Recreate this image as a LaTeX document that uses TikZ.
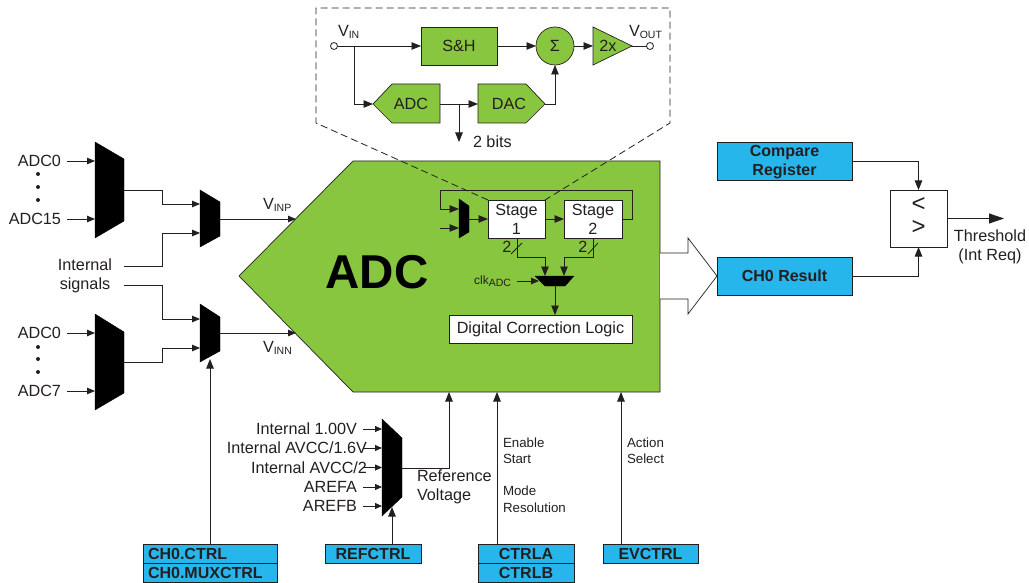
\documentclass[tikz,border=0pt]{standalone}
\usepackage{fontspec}
\setmainfont{Liberation Sans}
\usetikzlibrary{arrows.meta}
\definecolor{adcgreen}{RGB}{137,198,63}
\definecolor{regblue}{RGB}{38,182,235}
\definecolor{ink}{RGB}{35,31,32}
\newcommand{\subs}[1]{{\fontsize{10.5}{10.5}\selectfont\raisebox{-2.5pt}{#1}}}
\tikzset{
  wire/.style={draw=ink,line width=0.8pt},
  arr/.style={wire,-{Triangle[length=9.5pt,width=7.5pt]}},
  sarr/.style={wire,-{Triangle[length=8pt,width=6.5pt]}},
  bigarr/.style={wire,-{Triangle[length=15pt,width=10pt]}},
  txt/.style={inner sep=0pt,outer sep=0pt,text=ink,font=\fontsize{16.2}{19}\selectfont,align=center},
  small/.style={txt,font=\fontsize{13.3}{16}\selectfont,align=left},
  rt/.style={txt,anchor=east},
  greenbox/.style={txt,draw=ink,line width=0.7pt,fill=adcgreen},
  whitebox/.style={txt,draw=ink,line width=0.9pt,fill=white},
  reg/.style={txt,draw=ink,line width=0.8pt,fill=regblue,font=\fontsize{16}{19}\selectfont\bfseries},
  port/.style={circle,draw=ink,line width=0.8pt,fill=white,minimum size=7pt,inner sep=0pt,outer sep=0pt},
  muxfill/.style={fill=black,draw=black,line width=0.4pt},
  dotp/.style={circle,fill=ink,minimum size=4pt,inner sep=0pt},
  zoomline/.style={draw=ink,line width=0.8pt,dash pattern=on 7pt off 4pt}
}
\begin{document}
\begin{tikzpicture}[x=1pt,y=-1pt]
\useasboundingbox (0,0) rectangle (1029,583);

% main ADC body
\draw[fill=adcgreen,draw=ink,line width=0.7pt] (239,276) -- (353,161) -- (660,161) -- (660,392) -- (353,392) -- cycle;
\node[txt,font=\fontsize{47.5}{50}\selectfont\bfseries,text=black] (adcmain) at (377,272) {ADC};

% big output arrow
\draw[fill=white,draw=ink,line width=0.7pt] (660,253) -- (688,253) -- (688,238) -- (717,276) -- (688,314) -- (688,299) -- (660,299);

% inset
\node[greenbox,minimum width=76pt,minimum height=38pt] (sh) at (459,46) {S\&H};
\node[port] (vin) at (334,46) {};
\node[port] (vout) at (650,46) {};
\node[greenbox,circle,minimum size=38pt] (sum) at (555,46) {Σ};
\draw[fill=adcgreen,draw=ink,line width=0.7pt] (593,27) -- (632,46) -- (593,65) -- cycle;
\node[txt] (gain) at (608,46) {2x};
\coordinate (gainin) at (593,46);
\coordinate (gainout) at (632,46);
\draw[fill=adcgreen,draw=ink,line width=0.7pt] (373,104) -- (392,84) -- (440,84) -- (440,123) -- (392,123) -- cycle;
\node[txt] (iadc) at (411,104) {ADC};
\draw[fill=adcgreen,draw=ink,line width=0.7pt] (478,84) -- (526,84) -- (545,104) -- (526,123) -- (478,123) -- cycle;
\node[txt] (idac) at (509,104) {DAC};
\coordinate (iadcin) at (373,104);
\coordinate (iadcout) at (440,104);
\coordinate (idacin) at (478,104);
\coordinate (idacout) at (545,104);
\coordinate (vbr) at (354,46);
\coordinate (vbrd) at (354,104);
\coordinate (bbr) at (459,104);
\coordinate (bbrd) at (459,142);
\coordinate (dacup) at (555,104);
\draw[wire] (vin.east) -- (vbr);
\draw[arr] (vbr) -- (sh.west);
\draw[arr] (sh.east) -- (sum.west);
\draw[arr] (sum.east) -- (gainin);
\draw[wire] (gainout) -- (vout.west);
\draw[arr] (vbr) -- (vbrd) -- (iadcin);
\draw[arr] (iadcout) -- (idacin);
\draw[arr] (bbr) -- (bbrd);
\draw[arr] (idacout) -- (dacup) -- (sum.south);
\node[txt,anchor=west] (vinl) at (338,32) {V\subs{IN}};
\node[txt,anchor=west] (voutl) at (629,32) {V\subs{OUT}};
\node[txt,anchor=west] (twob) at (473,141.5) {2 bits};

% stages
\node[whitebox,minimum width=57pt,minimum height=38pt] (st1) at (516.5,219) {Stage\\1};
\node[whitebox,minimum width=58pt,minimum height=38pt] (st2) at (593,219) {Stage\\2};
\node[whitebox,minimum width=183pt,minimum height=28pt] (dcl) at (540.5,329) {Digital Correction Logic};

% dashed zoom outline
\coordinate (zl) at (316,123);
\coordinate (zr) at (670,123);
\draw[zoomline] (st1.north west) -- (zl) -- (316,8) -- (670,8) -- (zr) -- (st1.north east);

% stage mux
\fill[muxfill] (459,199) -- (469,206) -- (469,232) -- (459,238) -- cycle;
\coordinate (smin1) at (459,209);
\coordinate (smin2) at (459,228);
\coordinate (smfree) at (440,228);
\coordinate (smout) at (469,219);
\coordinate (fb1) at (632,219);
\coordinate (fb2) at (632,190);
\coordinate (fb3) at (440,190);
\coordinate (fb4) at (440,209);
\draw[arr] (st2.east) -- (fb1) -- (fb2) -- (fb3) -- (fb4) -- (smin1);
\draw[arr] (smfree) -- (smin2);
\draw[arr] (smout) -- (st1.west);
\draw[arr] (st1.east) -- (st2.west);

% horizontal mux
\fill[muxfill] (535,276) -- (574,276) -- (565,286) -- (545,286) -- cycle;
\coordinate (hin1) at (545,276);
\coordinate (hin2) at (564,276);
\coordinate (b1a) at (517,238);
\coordinate (b1b) at (517,257);
\coordinate (b1c) at (545,257);
\coordinate (b2a) at (593,238);
\coordinate (b2b) at (593,257);
\coordinate (b2c) at (564,257);
\draw[arr] (b1a) -- (b1b) -- (b1c) -- (hin1);
\draw[arr] (b2a) -- (b2b) -- (b2c) -- (hin2);
\coordinate (s1a) at (511,254);
\coordinate (s1b) at (522,243);
\coordinate (s2a) at (588,254);
\coordinate (s2b) at (598,243);
\draw[wire] (s1a) -- (s1b);
\draw[wire] (s2a) -- (s2b);
\node[txt] (two1) at (507,247) {2};
\node[txt] (two2) at (583,247) {2};
\coordinate (hout) at (555,286);
\draw[arr] (hout) -- (hout |- dcl.north);
\node[txt,anchor=east,font=\fontsize{12}{14}\selectfont] (clk) at (511,281) {clk\subs{ADC}};
\coordinate (clkfree) at (517,281);
\coordinate (clkin) at (539,281);
\draw[sarr] (clkfree) -- (clkin);

% left muxes
\fill[muxfill] (95,142) -- (124,159) -- (124,221) -- (95,238) -- cycle;
\fill[muxfill] (95,314) -- (124,332) -- (124,393) -- (95,410) -- cycle;
\fill[muxfill] (200,190) -- (220,202) -- (220,236) -- (200,247) -- cycle;
\fill[muxfill] (200,304) -- (220,317) -- (220,351) -- (200,362) -- cycle;

\node[rt] (a0) at (61,161) {ADC0};
\node[rt] (a15) at (61,219) {ADC15};
\node[rt] (b0) at (61,333) {ADC0};
\node[rt] (b7) at (61,391) {ADC7};
\foreach \n/\y in {d1/174,d2/187,d3/200,d4/347,d5/359,d6/372}
  \node[dotp] (\n) at (38,\y) {};
\coordinate (m1i1) at (95,161);
\coordinate (m1i2) at (95,219);
\coordinate (m4i1) at (95,333);
\coordinate (m4i2) at (95,391);
\draw[sarr] ([xshift=6pt]a0.east) -- (m1i1);
\draw[sarr] ([xshift=6pt]a15.east) -- (m1i2);
\draw[sarr] ([xshift=6pt]b0.east) -- (m4i1);
\draw[sarr] ([xshift=6pt]b7.east) -- (m4i2);

\node[txt] (isig) at (85,275.5) {Internal\\signals};
\coordinate (is1) at (124,266);
\coordinate (is2) at (124,285);
\coordinate (m1o) at (124,190);
\coordinate (m4o) at (124,362);
\coordinate (m2i1) at (200,204);
\coordinate (m2i2) at (200,233);
\coordinate (m3i1) at (200,319);
\coordinate (m3i2) at (200,348);
\draw[sarr] (m1o) -- (162,190) -- (162,204) -- (m2i1);
\draw[sarr] (is1) -- (162,266) -- (162,233) -- (m2i2);
\draw[sarr] (is2) -- (162,285) -- (162,319) -- (m3i1);
\draw[sarr] (m4o) -- (162,362) -- (162,348) -- (m3i2);
\coordinate (m2o) at (220,219);
\coordinate (m3o) at (220,333);
\coordinate (vp) at (296,219);
\coordinate (vn) at (296,333);
\draw[sarr] (m2o) -- (vp);
\draw[sarr] (m3o) -- (vn);
\node[txt,anchor=west] (vinp) at (263,205) {V\subs{INP}};
\node[txt,anchor=west] (vinn) at (263,348) {V\subs{INN}};

% bottom registers
\node[reg,minimum width=134pt,minimum height=19pt,text width=124pt,align=left] (chc) at (210,553.5) {CH0.CTRL};
\node[reg,minimum width=134pt,minimum height=19pt,text width=124pt,align=left] (chm) at (210,572.5) {CH0.MUXCTRL};
\node[reg,minimum width=96pt,minimum height=19pt] (refc) at (373,553.5) {REFCTRL};
\node[reg,minimum width=96pt,minimum height=19pt] (ctla) at (526,553.5) {CTRLA};
\node[reg,minimum width=96pt,minimum height=19pt] (ctlb) at (526,572.5) {CTRLB};
\node[reg,minimum width=95pt,minimum height=19pt] (evc) at (650.5,553.5) {EVCTRL};

\coordinate (m3ct) at (210,359);
\draw[arr] (chc.north) -- (m3ct);

% reference mux
\fill[muxfill] (382,419) -- (402,438) -- (402,497) -- (382,516) -- cycle;
\node[rt] (r1) at (357,429) {Internal 1.00V};
\node[rt] (r2) at (367,448) {Internal AVCC/1.6V};
\node[rt] (r3) at (367,467.5) {Internal AVCC/2};
\node[rt] (r4) at (357,487) {AREFA};
\node[rt] (r5) at (357,506) {AREFB};
\foreach \y/\k in {429/1,448/2,467.5/3,487/4,506/5}{
  \coordinate (rf\k) at (363,\y);
  \coordinate (ri\k) at (382,\y);
  \draw[wire,-{Triangle[length=7pt,width=6pt]}] (rf\k) -- (ri\k);
}
\coordinate (rmo) at (402,468);
\coordinate (rmc) at (449,468);
\coordinate (rmt) at (449,392);
\draw[arr] (rmo) -- (rmc) -- (rmt);
\coordinate (rmb) at (392,507);
\coordinate (refctop) at (392,544);
\draw[arr] (refctop) -- (rmb);
\node[txt,anchor=west,align=left] (refv) at (417,486.5) {Reference\\Voltage};

\coordinate (ctop) at (497,544);
\coordinate (ctt) at (497,392);
\draw[arr] (ctop) -- (ctt);
\coordinate (etop) at (621,544);
\coordinate (ett) at (621,392);
\draw[arr] (etop) -- (ett);
\node[small,anchor=west] (en) at (503,450.5) {Enable\\Start};
\node[small,anchor=west,font=\fontsize{13.3}{17}\selectfont] (mo) at (503,499) {Mode\\Resolution};
\node[small,anchor=west] (ac) at (627,450.5) {Action\\Select};

% right part
\node[reg,minimum width=135pt,minimum height=38pt] (cmp) at (784.5,161) {\strut\\[-19pt]Compare\\Register};
\node[reg,minimum width=135pt,minimum height=38pt] (res) at (784.5,276) {CH0 Result};
\node[whitebox,minimum width=57pt,minimum height=57pt] (comp) at (918.5,218.5) {};
\node[txt,font=\fontsize{24}{24}\selectfont] (lt) at (918.5,205) {<};
\node[txt,font=\fontsize{24}{24}\selectfont] (gt) at (918.5,228) {>};
\draw[arr] (cmp.east) -| (comp.north);
\draw[arr] (res.east) -| (comp.south);
\coordinate (thr) at (1004,218.5);
\draw[bigarr] (comp.east) -- (thr);
\node[txt] (thl) at (990,247) {Threshold\\(Int Req)};
\end{tikzpicture}
\end{document}
